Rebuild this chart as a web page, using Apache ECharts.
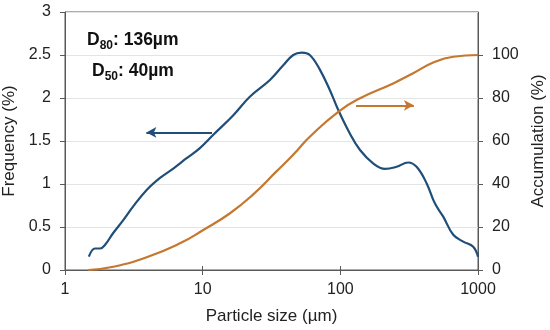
<!DOCTYPE html>
<html>
<head>
<meta charset="utf-8">
<script src="https://cdn.jsdelivr.net/npm/echarts@6/dist/echarts.min.js"></script>
<style>
html,body{margin:0;padding:0;background:#fff;}
#chart{width:550px;height:330px;}
</style>
</head>
<body>
<div id="chart"></div>
<script>
// Frequency curve (particle size in µm, frequency in %)
var freqSizes = [1.49, 1.65, 1.80, 1.95, 2.24, 2.65, 3.13, 3.92, 4.9, 6.12, 7.65, 9.5, 11.9, 16.7, 22, 30.8, 38.5, 45.5, 52.4, 60, 71, 84, 96.6, 117, 139, 173, 211, 256, 311, 358, 423, 486, 559, 661, 781, 923, 1000];
var freqValues = [0.155, 0.25, 0.25, 0.29, 0.43, 0.58, 0.74, 0.93, 1.07, 1.18, 1.30, 1.415, 1.57, 1.80, 2.015, 2.21, 2.38, 2.50, 2.527, 2.50, 2.33, 2.09, 1.86, 1.59, 1.395, 1.24, 1.175, 1.2, 1.25, 1.2, 1.01, 0.775, 0.62, 0.41, 0.33, 0.27, 0.155];
// Accumulation curve (particle size in µm, cumulative %)
var accSizes = [1.48, 2.24, 3.92, 6.84, 10.1, 15.8, 23.3, 34.5, 41.9, 49.5, 60, 96.6, 139, 242, 338, 473, 661, 1000];
var accValues = [0, 1.5, 5.9, 12.4, 18.6, 26.4, 35.2, 46, 51.3, 56.2, 62, 73.6, 79.9, 86.8, 91.5, 96.5, 99.2, 100];
// Axis ticks
var xTicks = [1, 10, 100, 1000];
var leftTicks = [0, 0.5, 1, 1.5, 2, 2.5, 3];
var rightTicks = [0, 20, 40, 60, 80, 100];
// Annotation arrows (data coordinates)
var blueArrow = {from: [11.7, 1.6], to: [3.9, 1.6]};
var orangeArrow = {from: [130, 76.6], to: [342, 76.6]};

var BLUE = '#1F4E79';
var ORANGE = '#C5772F';
var AXIS = '#595959';
var FONT = '"Liberation Sans", Arial, sans-serif';

function pairs(xs, ys) { return xs.map(function (x, i) { return [x, ys[i]]; }); }

var chart = echarts.init(document.getElementById('chart'), null, {renderer: 'canvas'});
chart.setOption({
  animation: false,
  textStyle: {fontFamily: FONT},
  grid: {left: 65, right: 72, top: 12, bottom: 60, show: true, borderColor: AXIS, borderWidth: 1,
    backgroundColor: 'transparent', containLabel: false, outerBoundsMode: 'none'},
  xAxis: [{
    type: 'log', logBase: 10, min: xTicks[0], max: xTicks[xTicks.length - 1],
    name: 'Particle size (µm)', nameLocation: 'middle', nameGap: 38,
    nameTextStyle: {fontSize: 17, color: '#222', fontFamily: FONT},
    axisLine: {lineStyle: {color: AXIS, width: 1}},
    axisTick: {show: true, length: 5, lineStyle: {color: AXIS}},
    axisLabel: {fontSize: 16, color: '#222', margin: 12, fontFamily: FONT,
      formatter: function (v) { return String(Math.round(v)); }},
    splitLine: {show: false}
  }, {
    type: 'log', logBase: 10, min: xTicks[0], max: xTicks[xTicks.length - 1], position: 'bottom',
    axisLine: {show: false},
    axisTick: {show: true, inside: true, length: 4, lineStyle: {color: AXIS}},
    axisLabel: {show: false},
    splitLine: {show: false}
  }],
  yAxis: [{
    type: 'value', min: leftTicks[0], max: leftTicks[leftTicks.length - 1], interval: 0.5, position: 'left',
    name: 'Frequency (%)', nameLocation: 'middle', nameGap: 41, nameRotate: 90,
    nameTextStyle: {fontSize: 17, color: '#222', fontFamily: FONT},
    axisLine: {show: true, lineStyle: {color: AXIS}},
    axisTick: {show: true, length: 5, lineStyle: {color: AXIS}},
    axisLabel: {fontSize: 16, color: '#222', margin: 14, fontFamily: FONT},
    splitLine: {show: true, lineStyle: {color: '#e4e4e4', width: 1}}
  }, {
    type: 'value', min: 0, max: 120, interval: 20, position: 'right',
    name: 'Accumulation (%)', nameLocation: 'middle', nameGap: 51, nameRotate: 90,
    nameTextStyle: {fontSize: 17, color: '#222', fontFamily: FONT},
    axisLine: {show: true, lineStyle: {color: AXIS}},
    axisTick: {show: true, length: 5, lineStyle: {color: AXIS}, customValues: rightTicks},
    axisLabel: {fontSize: 16, color: '#222', margin: 14, fontFamily: FONT, customValues: rightTicks},
    splitLine: {show: false}
  }],
  series: [{
    type: 'line', name: 'Frequency', xAxisIndex: 0, yAxisIndex: 0,
    data: pairs(freqSizes, freqValues),
    showSymbol: false, smooth: 0.4,
    lineStyle: {color: BLUE, width: 2.2},
    itemStyle: {color: BLUE},
    markLine: {
      silent: true, animation: false,
      symbol: ['none', 'arrow'], symbolSize: [8, 10],
      label: {show: false},
      lineStyle: {color: BLUE, width: 2, type: 'solid'},
      data: [[{coord: blueArrow.from}, {coord: blueArrow.to}]]
    }
  }, {
    type: 'line', name: 'Accumulation', xAxisIndex: 0, yAxisIndex: 1,
    data: pairs(accSizes, accValues),
    showSymbol: false, smooth: 0.5,
    lineStyle: {color: ORANGE, width: 2.2},
    itemStyle: {color: ORANGE},
    markLine: {
      silent: true, animation: false,
      symbol: ['none', 'arrow'], symbolSize: [8, 10],
      label: {show: false},
      lineStyle: {color: ORANGE, width: 2, type: 'solid'},
      data: [[{coord: orangeArrow.from}, {coord: orangeArrow.to}]]
    }
  }],
  graphic: [{
    type: 'text', left: 87, top: 31,
    style: {
      text: '{b|D}{s|80}{b|: 136µm}',
      rich: {
        b: {fontSize: 17.5, fontWeight: 'bold', fontFamily: FONT, fill: '#111', lineHeight: 21, verticalAlign: 'bottom'},
        s: {fontSize: 12, fontWeight: 'bold', fontFamily: FONT, fill: '#111', lineHeight: 14, verticalAlign: 'bottom', padding: [0, 0, -3, 0]}
      }
    }
  }, {
    type: 'text', left: 92, top: 62,
    style: {
      text: '{b|D}{s|50}{b|: 40µm}',
      rich: {
        b: {fontSize: 17.5, fontWeight: 'bold', fontFamily: FONT, fill: '#111', lineHeight: 21, verticalAlign: 'bottom'},
        s: {fontSize: 12, fontWeight: 'bold', fontFamily: FONT, fill: '#111', lineHeight: 14, verticalAlign: 'bottom', padding: [0, 0, -3, 0]}
      }
    }
  }]
});
</script>
</body>
</html>
